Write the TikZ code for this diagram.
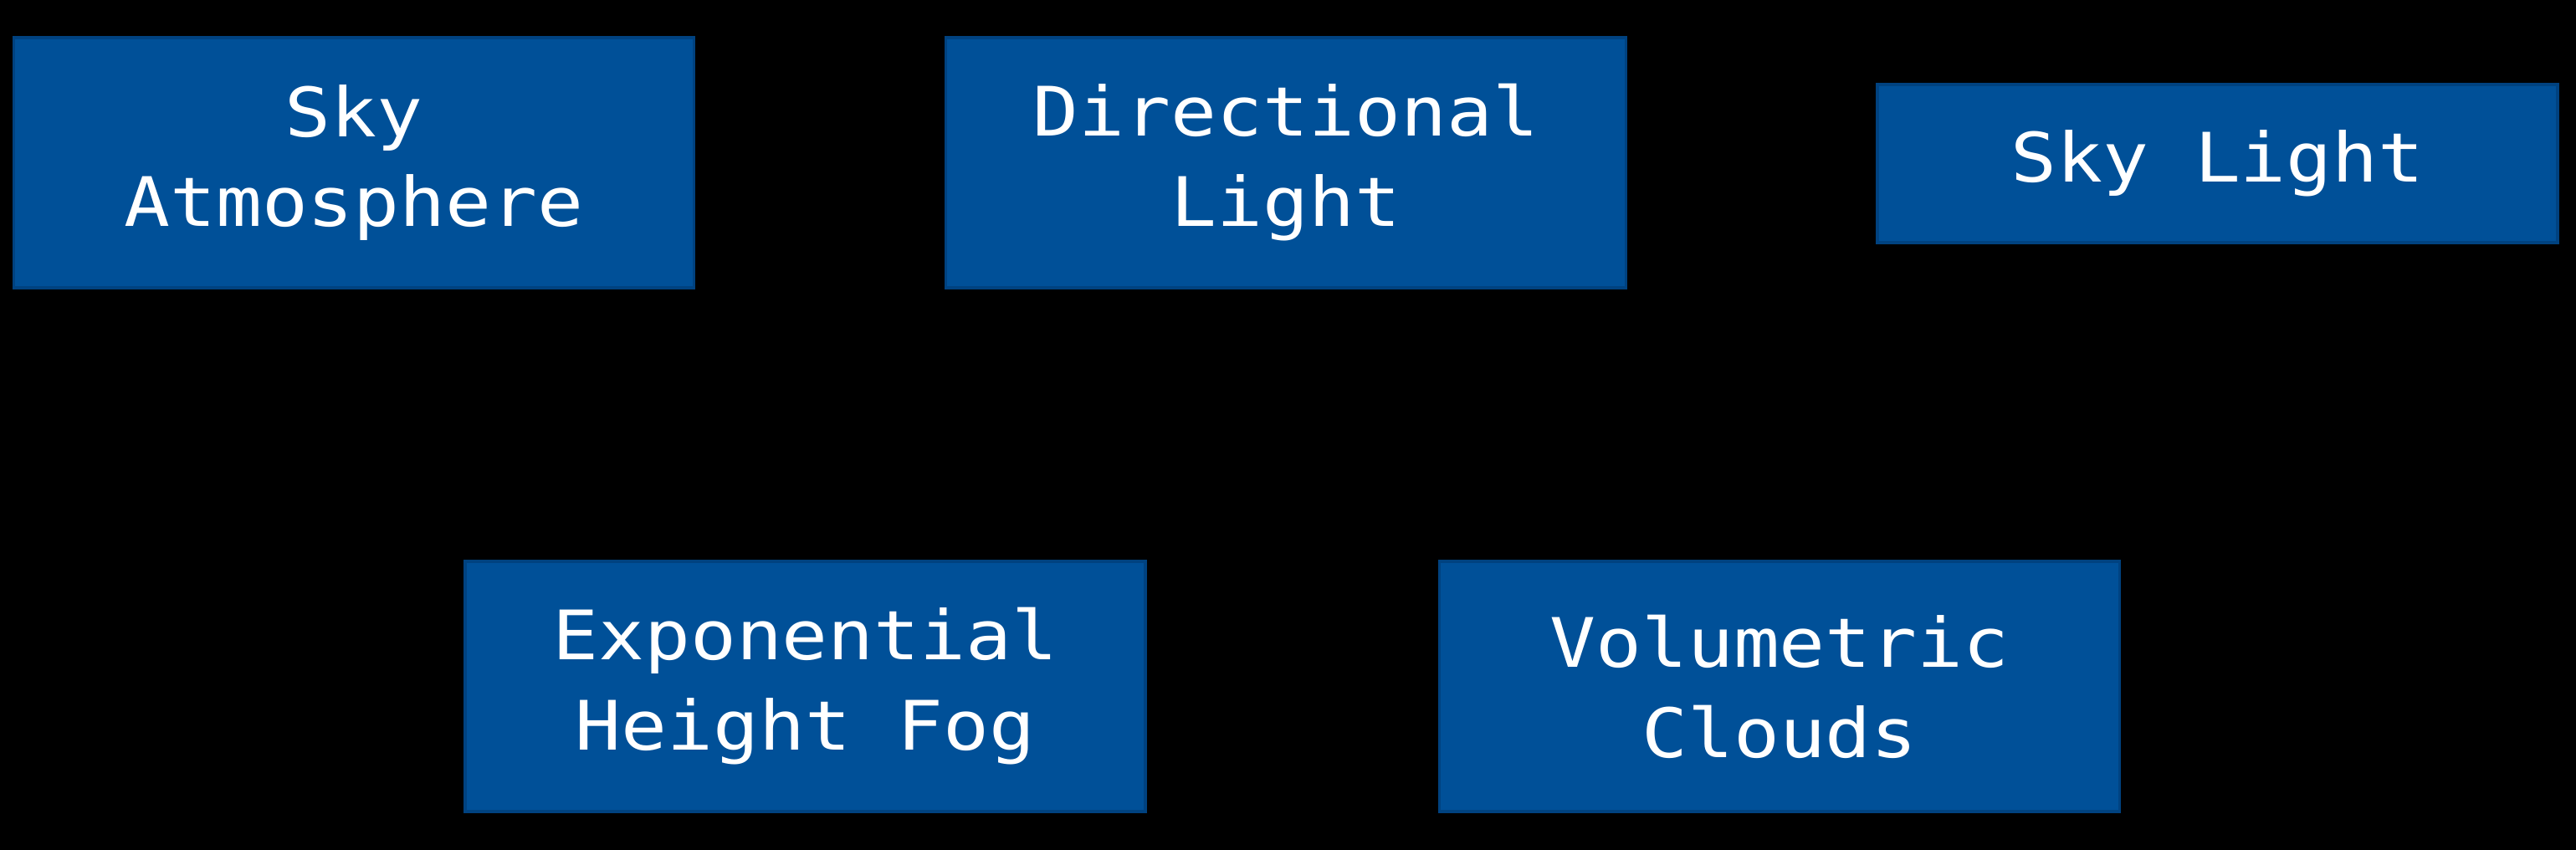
\documentclass[tikz,border=0pt]{standalone}
\usepackage{fontspec}
\newfontfamily\monobox[FakeStretch=1.12]{DejaVu Sans Mono}
\definecolor{ueblue}{RGB}{0,80,152}
\definecolor{ueedge}{RGB}{0,66,128}

\begin{document}
\begin{tikzpicture}[component/.style={rectangle, fill=ueblue, draw=ueedge, line width=1pt, text=white, align=center, inner sep=0pt, minimum width=8.13cm, minimum height=2.99cm, font=\monobox\fontsize{23.2}{30.7}\selectfont}]
\useasboundingbox (0,0) rectangle (30.79,10.15);
\fill[black] (-0.2,-0.2) rectangle (31,10.35);

\node[component](skyatm) at (4.23,8.205) {Sky\\Atmosphere};
\node[component](dirlight) at (15.37,8.205) {Directional\\Light};
\node[component, minimum height=1.89cm](skylight) at (26.505,8.195) {Sky Light};

\node[component](fog) at (9.625,1.945) {Exponential\\Height Fog};
\node[component](clouds) at (21.27,1.945) {Volumetric\\Clouds};

\end{tikzpicture}
\end{document}
